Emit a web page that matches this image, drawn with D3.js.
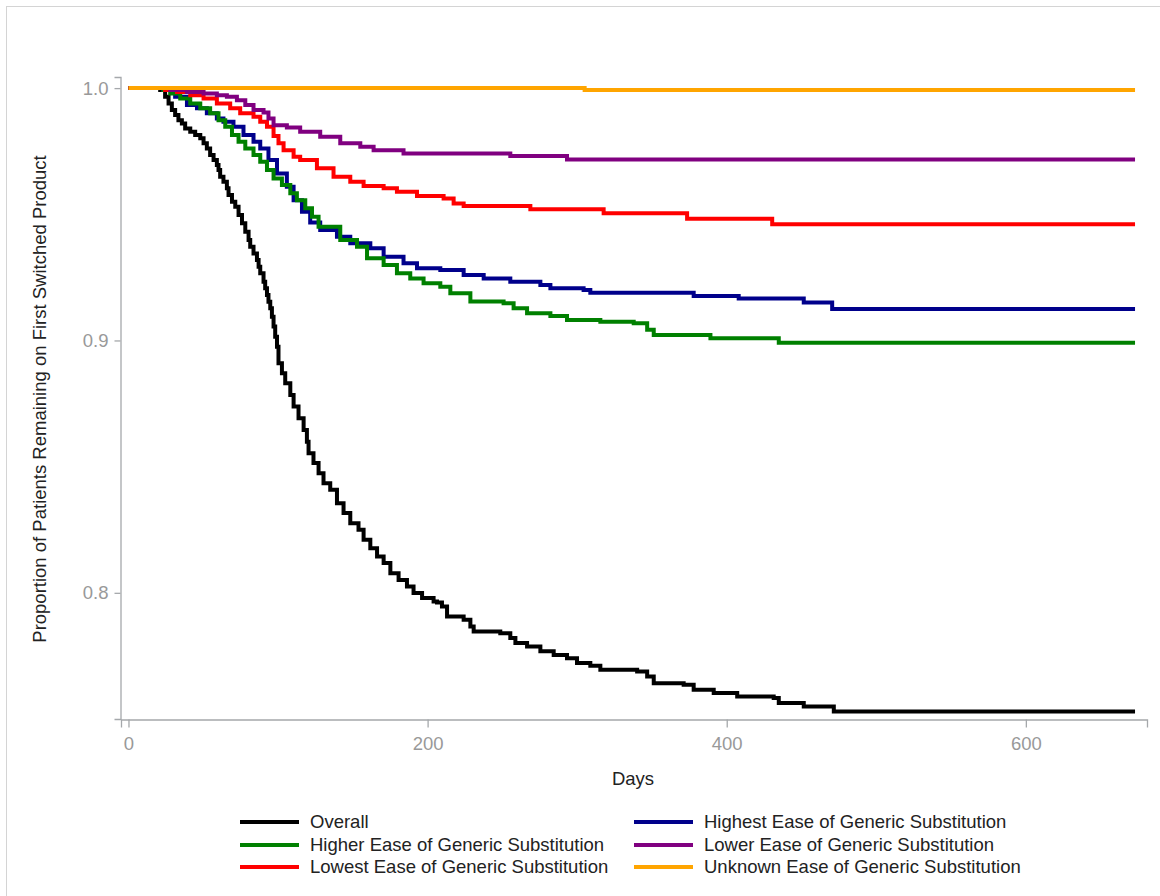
<!DOCTYPE html>
<html>
<head>
<meta charset="utf-8">
<script src="https://cdn.jsdelivr.net/npm/d3@7"></script>
<style>
  html, body { margin: 0; padding: 0; background: #fff; }
  svg { display: block; font-family: "Liberation Sans", Arial, sans-serif; }
</style>
</head>
<body>
<svg id="chart" width="1160" height="896"></svg>
<script>
// ---------- data (day, proportion remaining), step functions ----------
const overall = [
  [0,1],[21.2,0.9992],[24.5,0.9966],[26.8,0.9939],[29.0,0.9913],[31.2,0.9893],[33.4,0.9873],
  [35.7,0.9860],[37.9,0.9840],[41.3,0.9827],[44.6,0.9814],[48.0,0.9801],[50.2,0.9781],
  [52.4,0.9761],[54.6,0.9735],[56.9,0.9715],[59.1,0.9695],[60.2,0.9675],[61.3,0.9649],
  [63.5,0.9629],[65.8,0.9603],[66.9,0.9576],[69.2,0.9550],[71.4,0.9530],[73.6,0.9497],
  [75.9,0.9464],[78.1,0.9431],[80.3,0.9398],[81.4,0.9371],[83.6,0.9345],[85.9,0.9319],
  [87.0,0.9292],[88.1,0.9266],[90.3,0.9233],[91.4,0.9207],[92.6,0.9180],[93.6,0.9153],
  [94.8,0.9128],[95.9,0.9094],[97.0,0.9055],[98.1,0.9015],[99.3,0.8975],[100.3,0.8910],
  [102.6,0.8870],[104.8,0.8830],[108.2,0.8784],[110.4,0.8738],[113.7,0.8692],[117.1,0.8645],
  [119.3,0.8599],[120.4,0.8553],[123.7,0.8514],[127.1,0.8474],[130.4,0.8434],[134.9,0.8408],
  [139.4,0.8355],[143.8,0.8316],[148.3,0.8276],[153.8,0.8250],[157.2,0.8210],[161.7,0.8177],
  [166.2,0.8144],[170.6,0.8118],[175.1,0.8078],[180.6,0.8051],[186.2,0.8025],[190.6,0.7999],
  [196.3,0.7979],[204.0,0.7966],[206.3,0.7962],[209.6,0.7946],[213.0,0.7906],[224.1,0.7893],
  [228.6,0.7867],[230.8,0.7847],[248.6,0.7840],[255.3,0.7821],[258.7,0.7801],[266.5,0.7787],
  [275.4,0.7768],[284.3,0.7754],[293.2,0.7741],[299.9,0.7722],[308.8,0.7711],[315.5,0.7695],
  [340.1,0.7688],[346.8,0.7668],[351.2,0.7642],[371.2,0.7636],[377.9,0.7616],[391.3,0.7603],
  [407.0,0.7589],[431.4,0.7583],[434.8,0.7563],[451.5,0.7550],[471.6,0.7530],[673,0.7530]
];
const highest = [
  [0,1],[23.4,0.9992],[31.2,0.9966],[39.1,0.9933],[45.8,0.9920],[52.4,0.9900],[59.1,0.9880],
  [63.5,0.9867],[70.2,0.9847],[76.9,0.9814],[83.6,0.9787],[88.1,0.9761],[93.6,0.9715],
  [99.3,0.9662],[105.9,0.9609],[110.4,0.9556],[116.0,0.9510],[121.5,0.9467],[128.2,0.9438],
  [139.4,0.9411],[148.3,0.9385],[161.7,0.9365],[170.6,0.9332],[183.9,0.9306],[192.9,0.9286],
  [208.5,0.9279],[224.1,0.9259],[237.5,0.9246],[255.3,0.9233],[275.4,0.9220],[282.1,0.9207],
  [304.3,0.9200],[308.8,0.9189],[377.9,0.9176],[408.0,0.9166],[451.5,0.9150],[470.5,0.9125],
  [673,0.9125]
];
const higher = [
  [0,1],[23.4,0.9992],[27.9,0.9979],[34.6,0.9959],[41.3,0.9939],[48.0,0.9920],[54.6,0.9900],
  [60.2,0.9873],[64.7,0.9847],[69.2,0.9814],[73.6,0.9787],[78.1,0.9761],[83.6,0.9735],
  [88.1,0.9708],[92.6,0.9675],[97.0,0.9642],[102.6,0.9616],[108.2,0.9583],[112.6,0.9556],
  [118.2,0.9524],[122.7,0.9490],[127.1,0.9451],[141.6,0.9398],[152.8,0.9371],[159.5,0.9326],
  [170.6,0.9299],[179.5,0.9266],[188.4,0.9246],[197.3,0.9227],[208.5,0.9213],[215.2,0.9187],
  [228.6,0.9154],[250.8,0.9147],[257.5,0.9128],[266.5,0.9108],[282.1,0.9097],[293.2,0.9081],
  [315.5,0.9074],[337.8,0.9068],[346.8,0.9042],[351.2,0.9022],[389.1,0.9009],[434.8,0.8991],
  [673,0.8991]
];
const lower = [
  [0,1],[27.9,0.9992],[39.1,0.9985],[50.2,0.9979],[59.1,0.9972],[65.8,0.9966],[72.5,0.9952],
  [78.1,0.9933],[83.6,0.9913],[90.3,0.9903],[93.6,0.9880],[97.0,0.9853],[105.9,0.9844],
  [114.8,0.9827],[128.2,0.9807],[141.6,0.9781],[155.0,0.9768],[163.9,0.9754],[183.9,0.9741],
  [255.3,0.9731],[293.2,0.9717],[673,0.9717]
];
const lowest = [
  [0,1],[24.5,0.9992],[32.4,0.9985],[41.3,0.9972],[50.2,0.9959],[59.1,0.9939],[68.0,0.9920],
  [74.7,0.9900],[83.6,0.9886],[88.1,0.9867],[92.6,0.9847],[97.0,0.9810],[100.3,0.9781],
  [103.7,0.9754],[110.4,0.9728],[114.8,0.9715],[126.0,0.9682],[137.1,0.9649],[148.3,0.9629],
  [157.2,0.9612],[170.6,0.9603],[179.5,0.9589],[192.9,0.9572],[210.7,0.9563],[217.4,0.9543],
  [224.1,0.9533],[268.7,0.9520],[317.7,0.9504],[373.5,0.9482],[430.4,0.9461],[673,0.9461]
];
const unknown = [[0,1],[305,0.9992],[673,0.9992]];

const seriesNames = [
  "Overall",
  "Highest Ease of Generic Substitution",
  "Higher Ease of Generic Substitution",
  "Lower Ease of Generic Substitution",
  "Lowest Ease of Generic Substitution",
  "Unknown Ease of Generic Substitution"
];
const seriesData = [overall, highest, higher, lower, lowest, unknown];
const seriesColors = ["#000000", "#00008b", "#008000", "#800080", "#ff0000", "#ffa500"];
const drawOrder = [0, 1, 2, 4, 3, 5];
// legend layout: [column, row] per series
const legendOrder = [[0,0],[1,0],[0,1],[1,1],[0,2],[1,2]];
const xTicks = [0, 200, 400, 600];
const yTicks = [0.8, 0.9, 1.0];
const xTitle = "Days";
const yTitle = "Proportion of Patients Remaining on First Switched Product";

// ---------- drawing ----------
const FS = "18.5px";
const svg = d3.select("#chart");
svg.append("rect").attr("x", 6.5).attr("y", 6.5).attr("width", 1160).attr("height", 900)
  .attr("fill", "none").attr("stroke", "#d4d4d4").attr("stroke-width", 1);

const x = d3.scaleLinear().domain([-5, 681]).range([121, 1147]);
const y = d3.scaleLinear().domain([0.75, 1.0044]).range([719, 77]);

const axisColor = "#a5a8ab";
const tickText = "#999999";

const gx = svg.append("g").attr("transform", "translate(0,719.5)")
  .call(d3.axisBottom(x).tickValues(xTicks).tickFormat(d3.format("d")).tickSizeOuter(0).tickSize(8).tickPadding(9));
const gy = svg.append("g").attr("transform", "translate(120.5,0)")
  .call(d3.axisLeft(y).tickValues(yTicks).tickFormat(d3.format(".1f")).tickSizeOuter(0).tickSize(6).tickPadding(6));
[gx, gy].forEach(g => {
  g.select(".domain").attr("stroke", axisColor).attr("stroke-width", 1.3);
  g.selectAll(".tick line").attr("stroke", axisColor).attr("stroke-width", 1.3);
  g.selectAll(".tick text").attr("fill", tickText).style("font-size", FS)
    .style("font-family", "'Liberation Sans', Arial, sans-serif");
});

const line = d3.line().x(d => x(d[0])).y(d => y(d[1])).curve(d3.curveStepAfter);
const plot = svg.append("g");
drawOrder.forEach(i => {
  plot.append("path").datum(seriesData[i])
    .attr("fill", "none").attr("stroke", seriesColors[i]).attr("stroke-width", 4)
    .attr("stroke-linejoin", "miter").attr("d", line);
});

svg.append("text").attr("x", 633).attr("y", 785).attr("text-anchor", "middle")
  .attr("fill", "#222").style("font-size", FS).text(xTitle);
svg.append("text").attr("transform", "translate(46,399) rotate(-90)").attr("text-anchor", "middle")
  .attr("fill", "#222").style("font-size", FS).text(yTitle);

const legend = svg.append("g");
const colX = [240, 634];
const rowY = [822, 845, 867];
seriesNames.forEach((name, i) => {
  const [c, r] = legendOrder[i];
  const g = legend.append("g").attr("transform", `translate(${colX[c]},${rowY[r]})`);
  g.append("line").attr("x1", 0).attr("x2", 59).attr("y1", 0).attr("y2", 0)
    .attr("stroke", seriesColors[i]).attr("stroke-width", 4);
  g.append("text").attr("x", 70).attr("y", 0).attr("dy", "0.35em")
    .attr("fill", "#222").style("font-size", FS).text(name);
});
</script>
</body>
</html>
